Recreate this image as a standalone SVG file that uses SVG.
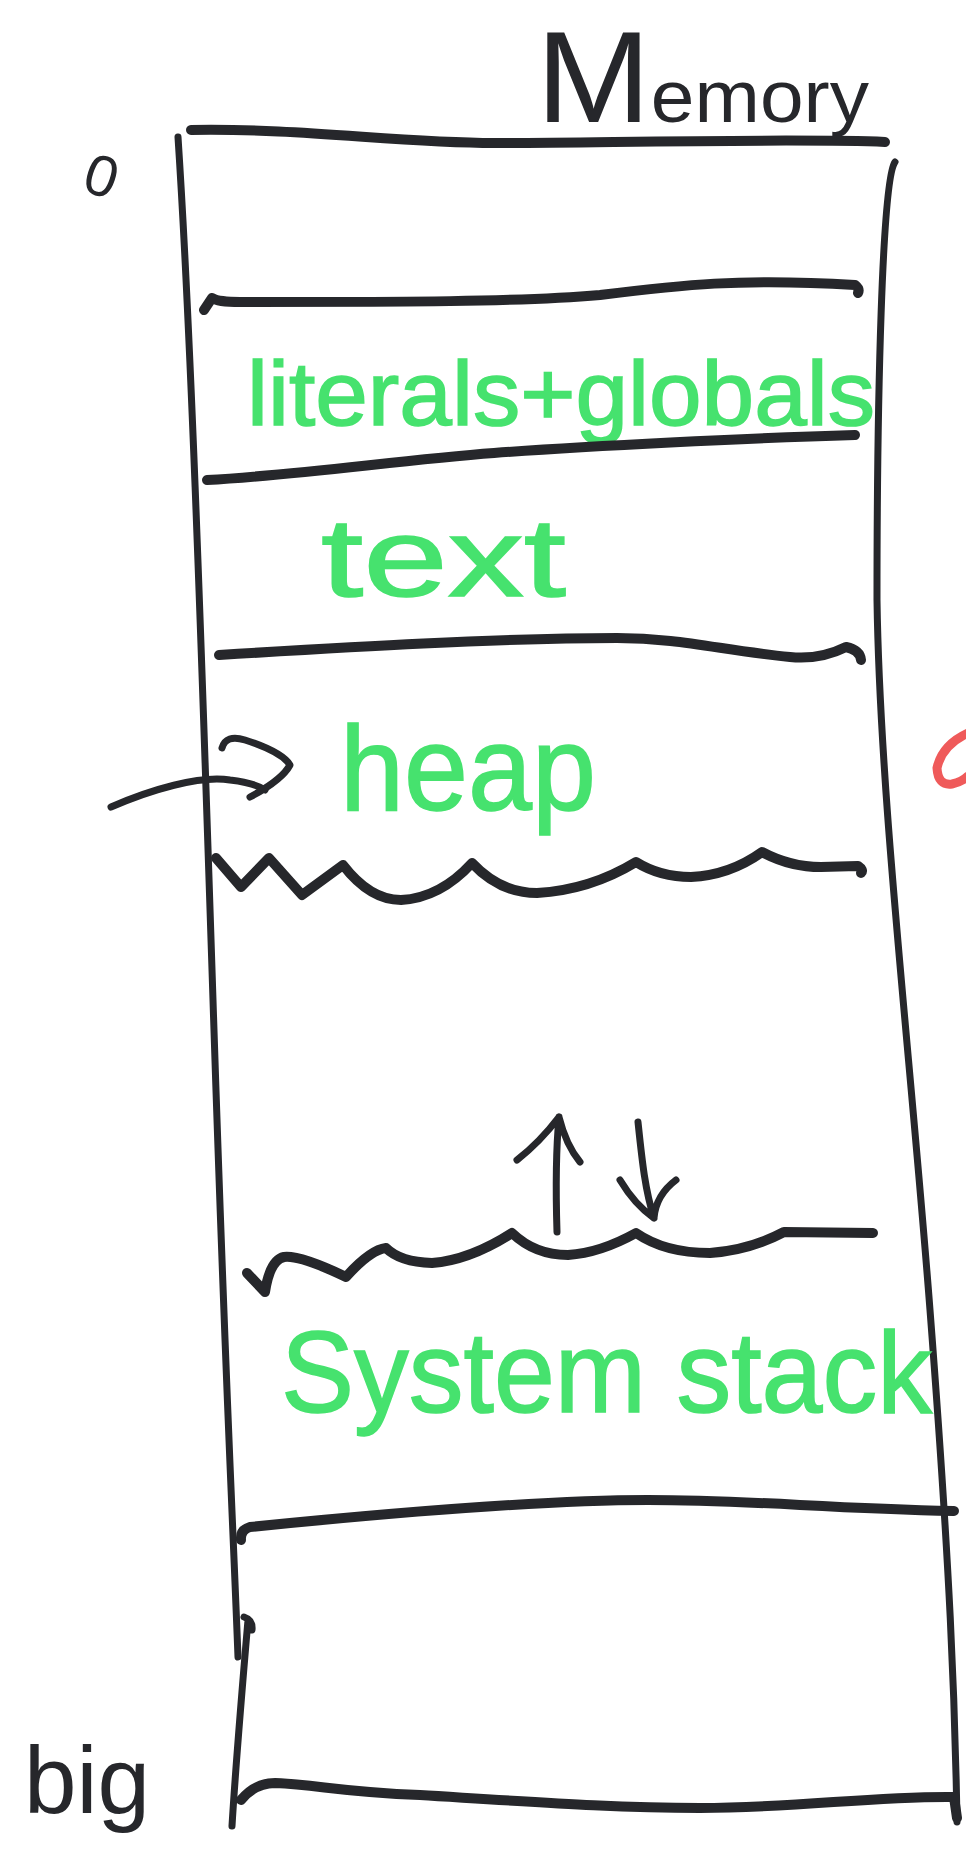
<svg xmlns="http://www.w3.org/2000/svg" width="966" height="1868" viewBox="0 0 966 1868">
<style>
.ink{fill:none;stroke:#26272b;stroke-linecap:round;stroke-linejoin:round}
.thin{stroke-width:7}
.thick{stroke-width:10}
.lbl{font-family:"Liberation Sans",Arial,sans-serif;fill:#46e26e;stroke:#46e26e;stroke-width:1.5}
.blk{font-family:"Liberation Sans",Arial,sans-serif;fill:#26272b}
</style>
<rect width="966" height="1868" fill="#ffffff"/>
<g id="title">
<text class="blk" x="536" y="122" textLength="333" lengthAdjust="spacingAndGlyphs"><tspan font-size="130">M</tspan><tspan font-size="74">emory</tspan></text>
</g>
<g id="addr-zero">
<text class="blk" x="0" y="0" font-size="58" transform="translate(80,190) rotate(18)">0</text>
</g>
<g id="addr-big">
<text class="blk" x="24" y="1813" font-size="95" textLength="126" lengthAdjust="spacingAndGlyphs">big</text>
</g>
<g id="frame">
<path class="ink thin" d="M178,137 C190,320 200,600 213,1000 S232,1500 238,1657"/>
<path class="ink thin" d="M244,1617 Q253,1620 252,1630 M248,1620 C242,1690 236,1760 232,1826"/>
<path class="ink thin" d="M895,162 C882,180 877,400 877,600 C880,800 910,1050 930,1310 S955,1700 957,1822"/>
<path class="ink thick" d="M191,130 C300,128 400,143 494,143 S800,138 885,142"/>
</g>
<g id="seg-reserved">
<path class="ink thick" d="M204,310 L212,298 Q218,302 240,302 C400,302 520,302 600,295 C680,285 740,278 855,285 Q860,289 858,293"/>
</g>
<g id="seg-literals">
<text class="lbl" x="247" y="425" font-size="90" textLength="628" lengthAdjust="spacingAndGlyphs">literals+globals</text>
<path class="ink thick" d="M207,480 C300,475 400,460 494,453 S750,438 855,435"/>
</g>
<g id="seg-text">
<text class="lbl" x="321" y="596" font-size="112" textLength="245" lengthAdjust="spacingAndGlyphs">text</text>
<path class="ink thick" d="M219,655 C350,647 500,638 617,638 C680,638 720,650 790,657 Q820,660 846,647 Q860,650 861,660"/>
</g>
<g id="seg-heap">
<text class="lbl" x="340" y="810" font-size="120" textLength="256" lengthAdjust="spacingAndGlyphs">heap</text>
<path class="ink thick" d="M216,858 L241,887 L269,858 L302,895 L343,865 Q370,900 401,900 Q440,898 472,863 Q500,893 537,893 Q590,890 636,862 Q660,877 691,877 Q730,875 762,852 Q790,867 821,867 L858,866 Q864,870 861,873"/>
</g>
<g id="seg-stack">
<path class="ink thick" d="M247,1273 L265,1292 Q270,1260 284,1257 Q300,1255 346,1277 Q370,1250 386,1248 Q400,1262 432,1263 Q470,1260 512,1233 Q535,1255 568,1255 Q600,1253 636,1233 Q665,1253 710,1253 Q750,1250 784,1232 L873,1233"/>
<text class="lbl" x="281" y="1412" font-size="115" textLength="651" lengthAdjust="spacingAndGlyphs">System stack</text>
<path class="ink thick" d="M241,1540 Q240,1530 250,1527 C400,1512 550,1500 648,1500 C750,1500 820,1508 954,1511"/>
</g>
<g id="seg-bottom">
<path class="ink thick" d="M241,1800 Q255,1783 275,1783 C320,1785 340,1792 420,1795 C550,1803 620,1808 700,1808 C800,1808 870,1796 954,1797 L957,1818"/>
</g>
<g id="side-note">
<path fill="none" stroke="#ef5a5a" stroke-width="9" stroke-linecap="round" d="M968,733 Q942,745 937,768 Q938,786 952,784 Q962,782 968,776"/>
</g>
<g id="connectors">
<path class="ink thin" d="M111,807 C150,790 200,775 230,780 Q255,783 265,790"/>
<path class="ink thin" d="M222,748 Q226,734 245,740 Q282,752 290,765 Q282,780 250,797"/>
<path class="ink thin" d="M557,1232 C556,1200 555,1160 559,1117 M517,1160 Q540,1142 559,1117 Q566,1145 580,1162"/>
<path class="ink thin" d="M638,1122 C642,1160 645,1190 654,1218 M620,1180 Q635,1205 654,1218 Q656,1195 676,1180"/>
</g>
</svg>
